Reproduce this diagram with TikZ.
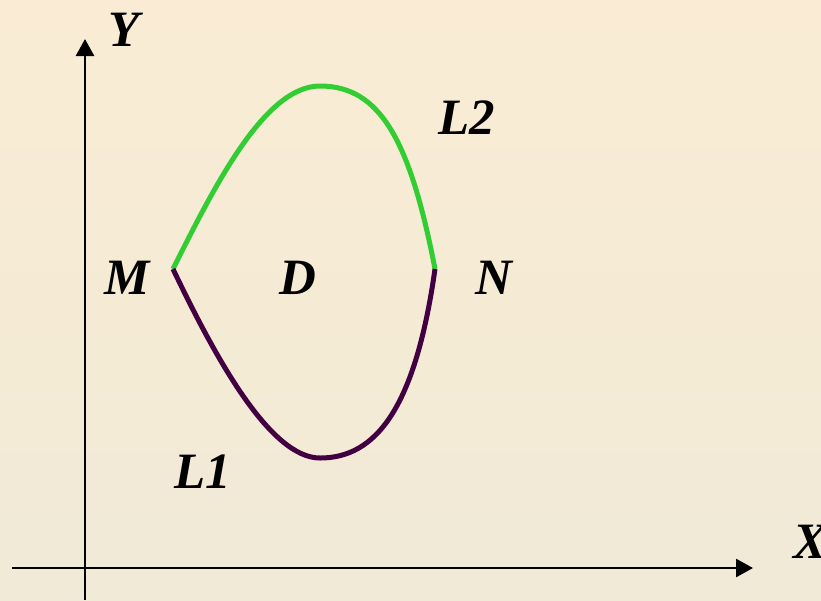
\documentclass[tikz,border=0pt]{standalone}
\usepackage{fontspec}
\setmainfont{Liberation Serif}
\usetikzlibrary{arrows.meta}
\definecolor{bgtop}{RGB}{250,236,212}
\definecolor{bgbottom}{RGB}{240,234,214}
\definecolor{curvegreen}{RGB}{50,205,50}
\definecolor{curvepurple}{RGB}{66,0,66}

\begin{document}
\begin{tikzpicture}[
    x=0.02cm, y=-0.02cm,
    axis/.style={-{Triangle[length=0.34cm, width=0.36cm]}, line width=1.5pt},
    curve/.style={line width=0.1cm},
    lbl/.style={inner sep=0pt, font=\fontsize{29}{34}\selectfont\bfseries\itshape}
]
    \fill[top color=bgtop, bottom color=bgbottom] (0,0) rectangle (821,600);
    \useasboundingbox (0,0) rectangle (821,600);

    % axes
    \coordinate (ybot) at (85,600);
    \coordinate (ytop) at (85,39);
    \coordinate (xleft) at (12,568);
    \coordinate (xright) at (753,568);
    \draw[axis] (ybot) -- (ytop);
    \draw[axis] (xleft) -- (xright);

    % end points of the two arcs
    \coordinate (M) at (173,269);
    \coordinate (N) at (435,269);
    \coordinate (top) at (320,86);
    \coordinate (bot) at (320,458);

    \draw[curve, curvegreen] (M) .. controls (215,185) and (265,86) .. (top)
        .. controls (380,86) and (410,140) .. (N);
    \draw[curve, curvepurple] (M) .. controls (215,357) and (270,458) .. (bot)
        .. controls (375,458) and (415,410) .. (N);

    \node[lbl] (Ylab) at (124,30) {Y};
    \node[lbl] (Xlab) at (810,542) {X};
    \node[lbl] (Mlab) at (127,278) {M};
    \node[lbl] (Dlab) at (298,278) {D};
    \node[lbl] (Nlab) at (494,278) {N};
    \node[lbl] (L2lab) at (467,118) {L2};
    \node[lbl] (L1lab) at (203,472) {L1};
\end{tikzpicture}
\end{document}
